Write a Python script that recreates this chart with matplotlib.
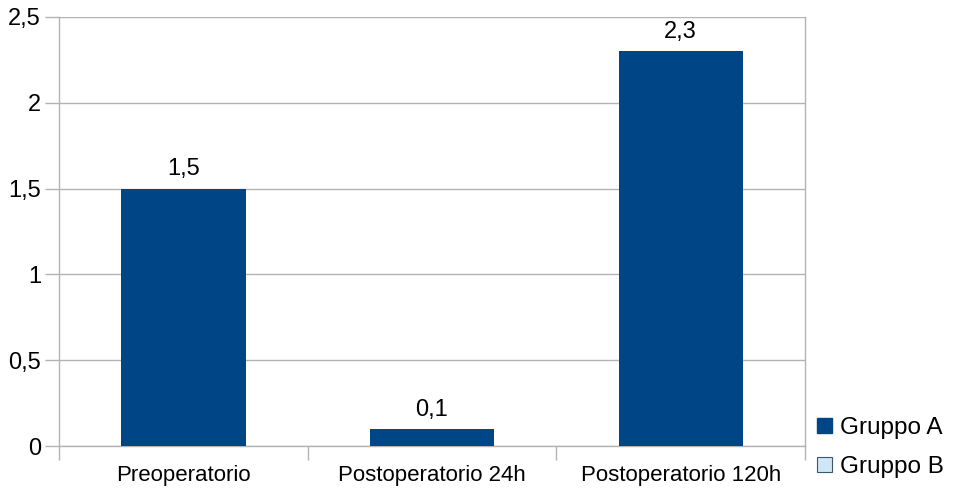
import matplotlib
matplotlib.use("Agg")
import matplotlib.pyplot as plt
from matplotlib.patches import Patch
import numpy as np

plt.rcParams['font.family'] = ['Liberation Sans', 'DejaVu Sans']

categories = ["Preoperatorio", "Postoperatorio 24h", "Postoperatorio 120h"]
gruppo_a = [1.5, 0.1, 2.3]
series_names = ["Gruppo A", "Gruppo B"]
y_ticks = [0, 0.5, 1, 1.5, 2, 2.5]

col_a = "#004586"
col_b = "#cfe7f5"
grid_col = "#b3b3b3"

fig = plt.figure(figsize=(9.55, 4.9), dpi=100)
ax = fig.add_axes([59 / 955, 44 / 490, (805 - 59) / 955, (446 - 17) / 490])

x = np.arange(len(categories))
bars = ax.bar(x, gruppo_a, width=0.5, color=col_a, zorder=3)

for xi, v in zip(x, gruppo_a):
    ax.annotate(f"{v:g}".replace(".", ","), (xi, v), xytext=(0, 6),
                textcoords="offset points", ha="center", va="bottom",
                fontsize=17, color="black")

ax.set_xlim(-0.5, len(categories) - 0.5)
ax.set_ylim(0, 2.5)
ax.set_yticks(y_ticks)
ax.set_yticklabels([f"{t:g}".replace(".", ",") for t in y_ticks], fontsize=17)
ax.yaxis.grid(True, color=grid_col, linewidth=1, zorder=0)

# category labels centred, tick marks at the boundaries
ax.set_xticks(x)
ax.set_xticklabels(categories, fontsize=16)
ax.tick_params(axis="x", length=0, pad=14)
ax.set_xticks(np.arange(-0.5, len(categories)), minor=True)
ax.tick_params(axis="x", which="minor", length=10, color=grid_col, width=1)
ax.tick_params(axis="y", length=10, color=grid_col, width=1, pad=3)

for side in ["left", "bottom", "right"]:
    ax.spines[side].set_color(grid_col)
    ax.spines[side].set_linewidth(1)
ax.spines["top"].set_visible(False)

handles = [Patch(facecolor=col_a, edgecolor=col_a, label=series_names[0]),
           Patch(facecolor=col_b, edgecolor="#3a5670", linewidth=0.8, label=series_names[1])]
fig.legend(handles=handles, loc="lower left", bbox_to_anchor=(805 / 955, 0.0),
           frameon=False, fontsize=17.5, handlelength=0.6, handleheight=0.6,
           handletextpad=0.35, labelspacing=0.7, borderaxespad=0.1)

fig.savefig("out.png", dpi=100)
